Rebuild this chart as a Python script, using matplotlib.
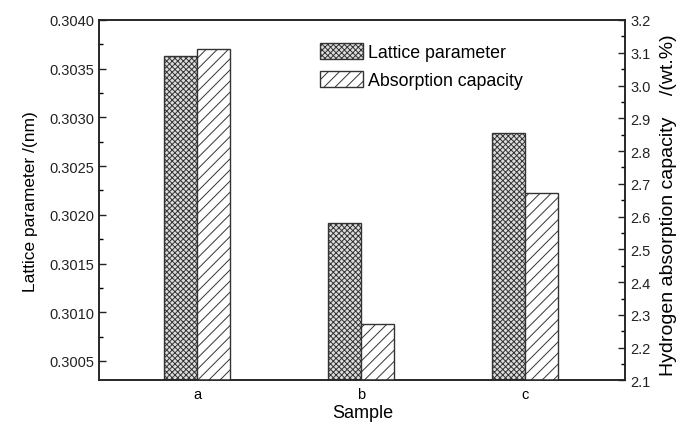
import matplotlib
matplotlib.use("Agg")
import matplotlib.pyplot as plt
import numpy as np
from matplotlib.ticker import MultipleLocator, FormatStrFormatter

# values
samples = ["a", "b", "c"]
lattice = [0.30363, 0.30192, 0.30284]      # nm
absorption = [3.111, 2.273, 2.671]         # wt.%

plt.rcParams["font.family"] = ["Liberation Sans", "DejaVu Sans"]
plt.rcParams["hatch.linewidth"] = 0.7

fig = plt.figure(figsize=(6.81, 4.27), dpi=100)
ax = fig.add_axes([0.146, 0.1066, 0.772, 0.8443])
ax2 = ax.twinx()

x = np.arange(1, len(samples) + 1)
w = 0.2

b1 = ax.bar(x - w / 2, lattice, w, color="#dcdcdc", edgecolor="#333333",
            hatch="xxxxxx", linewidth=1.0, label="Lattice parameter")
b2 = ax2.bar(x + w / 2, absorption, w, color="white", edgecolor="#333333",
             hatch="///", linewidth=1.0, label="Absorption capacity")

ax.set_xlim(0.405, 3.61)
ax.set_ylim(0.3003, 0.3040)
ax2.set_ylim(2.1, 3.2)

ax.yaxis.set_major_locator(MultipleLocator(0.0005))
ax.yaxis.set_minor_locator(MultipleLocator(0.00025))
ax.yaxis.set_major_formatter(FormatStrFormatter("%.4f"))
ax2.yaxis.set_major_locator(MultipleLocator(0.1))
ax2.yaxis.set_minor_locator(MultipleLocator(0.05))
ax2.yaxis.set_major_formatter(FormatStrFormatter("%.1f"))

ax.set_xticks(x)
ax.set_xticklabels(samples)
ax.tick_params(axis="x", length=0, labelsize=10.5, pad=5)
for a in (ax, ax2):
    a.tick_params(axis="y", which="major", direction="in", length=5, width=1, labelsize=10.5, colors="#222222")
    a.tick_params(axis="y", which="minor", direction="in", length=3, width=1)
    for s in a.spines.values():
        s.set_linewidth(1.1)
        s.set_color("#222222")

ax.set_xlabel("Sample", fontsize=13, labelpad=2)
ax.set_ylabel("Lattice parameter /(nm)", fontsize=12.5, labelpad=8)
ax2.set_ylabel("Hydrogen absorption capacity    /(wt.%)", fontsize=14)
ax2.yaxis.set_label_coords(1.066, 0.49)

ax.legend([b1, b2], ["Lattice parameter", "Absorption capacity"], loc="upper left",
          bbox_to_anchor=(0.39, 0.98), frameon=False, fontsize=12.8,
          handlelength=2.4, handleheight=1.0, handletextpad=0.3, labelspacing=0.55)

fig.savefig("out.png", dpi=100)
